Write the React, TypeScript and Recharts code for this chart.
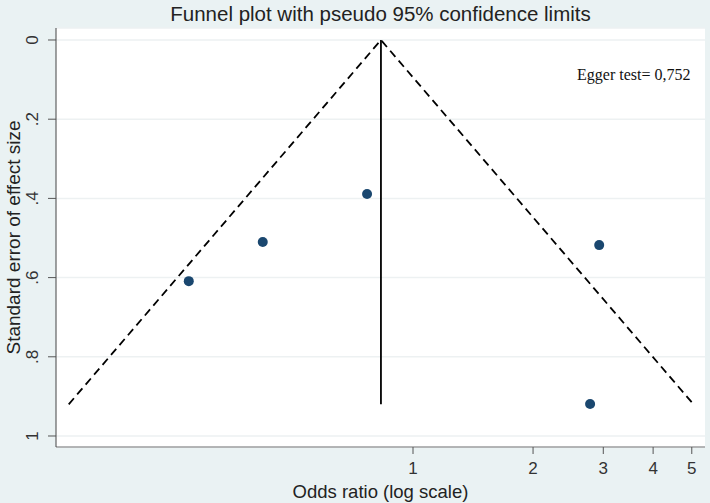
import { ScatterChart, Scatter, XAxis, YAxis, CartesianGrid, Label } from 'recharts'

// study estimates: odds ratio and its standard error
const studyOR = [0.767, 0.42, 0.274, 2.93, 2.78]
const studySE = [0.389, 0.51, 0.609, 0.518, 0.919]

// pseudo 95% limits (left end, apex, right end) and the pooled estimate line
const funnelOR = [0.137, 0.831, 5.05]
const funnelSE = [0.92, 0, 0.92]
const pooledOR = [0.831, 0.831]
const pooledSE = [0, 0.92]

const xTicks = [1, 2, 3, 4, 5]
const yTicks = [0, 0.2, 0.4, 0.6, 0.8, 1]

const TITLE = 'Funnel plot with pseudo 95% confidence limits'
const NOTE = 'Egger test= 0,752'

const SANS = '"Liberation Sans", Arial, sans-serif'
const SERIF = '"Liberation Serif", "Times New Roman", serif'
const BG = '#EAF2F3'
const MARKER = '#1A476F'

const zip = (xs: number[], ys: number[]) => xs.map((x, i) => ({ or: x, se: ys[i] }))

const studies = zip(studyOR, studySE)
const funnel = zip(funnelOR, funnelSE)
const pooled = zip(pooledOR, pooledSE)

const fmtSE = (v: number) => (v === 0 || v === 1 ? String(v) : String(v).replace(/^0\./, '.'))

function YTick(props: any) {
  const { x, y, payload } = props
  return (
    <text x={x} y={y} transform={`rotate(-90, ${x}, ${y})`} textAnchor="middle"
      dominantBaseline="central" fontFamily={SANS} fontSize={17} fill="#333">
      {fmtSE(payload.value)}
    </text>
  )
}

function YTitle(props: any) {
  const { viewBox } = props
  const cx = viewBox.x + 13
  const cy = viewBox.y + viewBox.height / 2
  return (
    <text x={cx} y={cy} transform={`rotate(-90, ${cx}, ${cy})`} textAnchor="middle"
      dominantBaseline="central" fontFamily={SANS} fontSize={19} fill="#222">
      Standard error of effect size
    </text>
  )
}

const noLine = () => <g />

export default function App() {
  return (
    <div style={{ position: 'absolute', left: 0, top: 0, width: 710, height: 503, background: BG }}>
      <div style={{
        position: 'absolute', top: 2, left: 56, width: 649, textAlign: 'center',
        fontFamily: SANS, fontSize: 20.5, color: '#222', lineHeight: '24px',
      }}>
        {TITLE}
      </div>
      <ScatterChart width={710} height={503} margin={{ top: 28, right: 5, bottom: 0, left: 0 }}>
        <CartesianGrid vertical={false} stroke="#EDF1F2" strokeWidth={1.5} fill="#fff" fillOpacity={1} />
        <XAxis type="number" dataKey="or" scale="log" domain={[0.1273, 5.397]} allowDataOverflow
          ticks={xTicks} height={56} tickSize={7} tickMargin={8}
          axisLine={{ stroke: '#777' }} tickLine={{ stroke: '#555' }}
          tick={{ fontFamily: SANS, fontSize: 17, fill: '#333' }}>
          <Label value="Odds ratio (log scale)" position="insideBottom" offset={5}
            style={{ fontFamily: SANS, fontSize: 18.5, fill: '#222' }} />
        </XAxis>
        <YAxis type="number" dataKey="se" reversed domain={[-0.0303, 1.0278]} allowDataOverflow
          ticks={yTicks} width={56} tickSize={8} tickMargin={15}
          axisLine={{ stroke: '#444' }} tickLine={{ stroke: '#555' }} tick={YTick}>
          <Label content={YTitle} />
        </YAxis>
        <Scatter data={funnel} line={{ stroke: '#000', strokeWidth: 1.8, strokeDasharray: '8 5' }}
          shape={noLine} isAnimationActive={false} />
        <Scatter data={pooled} line={{ stroke: '#000', strokeWidth: 1.8 }}
          shape={noLine} isAnimationActive={false} />
        <Scatter data={studies} fill={MARKER} isAnimationActive={false}
          shape={(p: any) => <circle cx={p.cx} cy={p.cy} r={5} fill={MARKER} />} />
      </ScatterChart>
      <div style={{
        position: 'absolute', top: 65, left: 577, fontFamily: SERIF, fontSize: 16,
        color: '#111', whiteSpace: 'nowrap', lineHeight: '20px',
      }}>
        {NOTE}
      </div>
    </div>
  )
}
